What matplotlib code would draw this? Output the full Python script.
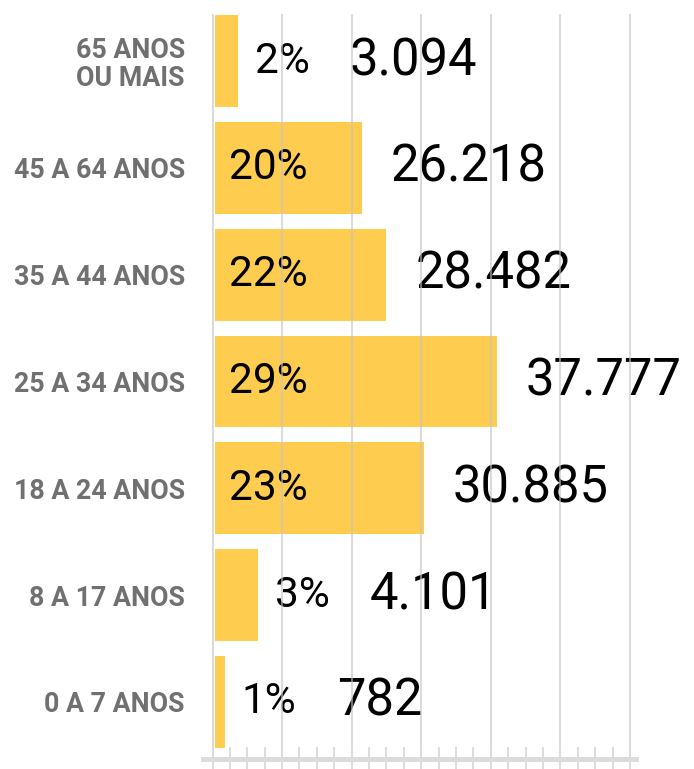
import matplotlib

matplotlib.use("Agg")
import matplotlib.pyplot as plt
from matplotlib.ticker import MultipleLocator

# rows from top to bottom
faixas = ["65 ANOS\nOU MAIS", "45 A 64 ANOS", "35 A 44 ANOS", "25 A 34 ANOS",
          "18 A 24 ANOS", "8 A 17 ANOS", "0 A 7 ANOS"]
percentuais = [2, 20, 22, 29, 23, 3, 1]
totais = [3094, 26218, 28482, 37777, 30885, 4101, 782]
# bar lengths as drawn in the original graphic (axis units)
comprimentos = [3.3, 21.1, 24.6, 40.5, 30.0, 6.2, 1.4]

AMARELO = "#fecd50"
PX = 72 / 100  # points per pixel at dpi 100

fig = plt.figure(figsize=(6.94, 7.69), dpi=100)
ax = fig.add_axes([203 / 694, 10 / 769, 433 / 694, 745 / 769])

n = len(faixas)
ys = [n - 1 - i for i in range(n)]
ax.barh(ys, comprimentos, left=0.35, height=0.86, color=AMARELO, zorder=1)

for y, comp, pct, tot in zip(ys, comprimentos, percentuais, totais):
    fim = 0.35 + comp
    tot_txt = f"{tot:,}".replace(",", ".")
    if comp > 10:
        # percentage inside the bar, total after it
        ax.annotate(f"{pct}%", (0.35, y), xytext=(14 * PX, 0), textcoords="offset points",
                    va="center", ha="left", fontsize=30.5, family="Roboto", zorder=2)
        ax.annotate(tot_txt, (fim, y), xytext=(29 * PX, 0), textcoords="offset points",
                    va="center", ha="left", fontsize=36.5, family="Roboto", zorder=2)
    else:
        ax.annotate(f"{pct}%", (fim, y), xytext=(17 * PX, 0), textcoords="offset points",
                    va="center", ha="left", fontsize=30.5, family="Roboto", zorder=2)
        ax.annotate(tot_txt, (fim, y), xytext=(112 * PX, 0), textcoords="offset points",
                    va="center", ha="left", fontsize=36.5, family="Roboto", zorder=2)

ax.set_xlim(-1.365, 60.85)
ax.set_ylim(-0.534, 6.44)

ax.set_yticks(ys)
ax.set_yticklabels(faixas, fontsize=19.3, fontweight="bold", color="#707070",
                   family="Roboto", linespacing=1.05)
ax.tick_params(axis="y", length=0, pad=13)

ax.xaxis.set_major_locator(MultipleLocator(10))
ax.xaxis.set_minor_locator(MultipleLocator(2.5))
ax.tick_params(axis="x", which="both", direction="inout", length=18, width=1.44,
               color="#dcdcdc", labelbottom=False)
ax.set_axisbelow(False)
ax.grid(axis="x", which="major", color="#c4c4c4", alpha=0.6, linewidth=1.5)

for lado in ["top", "right", "left"]:
    ax.spines[lado].set_visible(False)
ax.spines["bottom"].set_color("#dcdcdc")
ax.spines["bottom"].set_linewidth(3.6)

fig.savefig("out.png", dpi=100)
plt.close(fig)
